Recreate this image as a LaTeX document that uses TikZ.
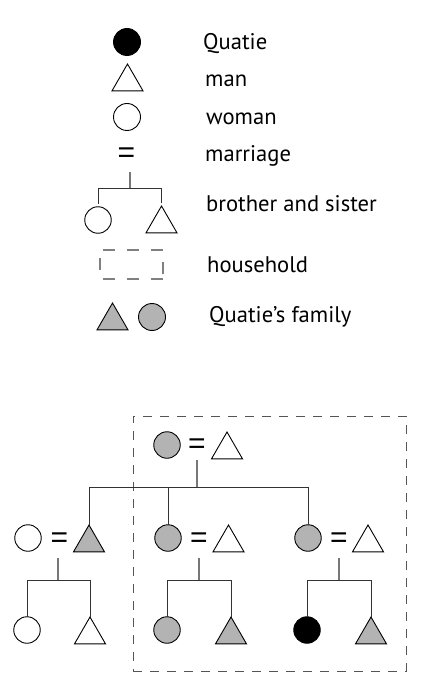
\documentclass[tikz,border=0pt]{standalone}
\usepackage{fontspec}
\setmainfont{PT Sans}
\newfontfamily\eqfont{Liberation Sans}
\usetikzlibrary{shapes.geometric,calc}
\definecolor{famgray}{HTML}{B3B3B3}
\definecolor{stubgray}{HTML}{777777}
\definecolor{linegray}{HTML}{333333}
\definecolor{boxgray}{HTML}{555555}
\definecolor{hhgray}{HTML}{808080}
\tikzset{
  fem/.style={circle, draw=black, line width=0.9pt, inner sep=0pt, outer sep=0pt, minimum size=26.5pt, fill=white},
  mal/.style={regular polygon, regular polygon sides=3, draw=black, line width=0.9pt, inner sep=0pt, outer sep=0pt, minimum size=35.8pt, fill=white},
  eqsign/.style={inner sep=0pt, anchor=base, font=\eqfont\fontsize{30}{30}\selectfont},
  lab/.style={inner sep=0pt, anchor=base west, font=\fontsize{22.6}{24}\selectfont},
  stub/.style={draw=stubgray, line width=1.3pt},
  kin/.style={draw=linegray, line width=0.9pt},
  hh/.style={draw=hhgray, line width=1.3pt, dash pattern=on 12pt off 12pt},
}
\begin{document}
\begin{tikzpicture}[x=1pt,y=-1pt]
\useasboundingbox (0,0) rectangle (420,700);
% ---------- legend ----------
\node[fem, fill=black, minimum size=27pt] (lq) at (127,42) {};
\node[lab] (tq) at (203,50) {Quatie};
\node[mal] (lm) at (127.5,81.9) {};
\node[lab] (tm) at (205,87) {man};
\node[fem, minimum size=27pt] (lw) at (127,117) {};
\node[lab] (tw) at (206,125) {woman};
\node[eqsign] (le) at (126.5,162.6) {=};
\node[lab] (tma) at (205,162) {marriage};
\node[fem] (ls) at (98,220) {};
\node[mal] (lb) at (161.5,223.9) {};
\coordinate (lsT) at (130,172);
\coordinate (lsJ) at (130,188);
\draw[stub] (lsT) -- (lsJ);
\draw[kin] ($(ls.north)+(0,-3)$) |- (lsJ -| lb.corner 1) -- ($(lb.corner 1)+(0,-3)$);
\node[lab] (tbs) at (206,212) {brother and sister};
\node[minimum width=63pt, minimum height=29pt, inner sep=0pt, outer sep=0pt] (lh) at (131.5,264.5) {};
\draw[hh, dash phase=21.3pt] (lh.north west) -- (lh.north east);
\draw[hh, dash phase=21.3pt] (lh.south west) -- (lh.south east);
\draw[hh, dash phase=16pt] (lh.north west) -- (lh.south west);
\draw[hh, dash phase=12pt] (lh.north east) -- (lh.south east);
\node[lab] (th) at (207,272) {household};
\node[mal, fill=famgray] (lft) at (112.5,320.9) {};
\node[fem, fill=famgray, minimum size=27pt] (lfc) at (152,317) {};
\node[lab] (tf) at (209,322) {Quatie’s family};
% ---------- household box ----------
\node[draw=boxgray, dash pattern=on 9pt off 8pt, line width=0.9pt, minimum width=273pt, minimum height=255pt, inner sep=0pt] (hbox) at (269.5,543.5) {};
% ---------- generation 1 ----------
\node[fem, fill=famgray] (f0) at (167,445) {};
\node[eqsign] (e0) at (197,453.6) {=};
\node[mal] (m0) at (227,449.9) {};
\coordinate (s0) at (197,460);
\coordinate (j0) at (197,487);
\draw[stub] (s0) -- (j0);
% ---------- generation 2 ----------
\node[fem] (w1) at (28,538) {};
\node[eqsign] (e1) at (59.5,547) {=};
\node[mal, fill=famgray] (m1) at (89,542.9) {};
\node[fem, fill=famgray] (f2) at (168,538) {};
\node[eqsign] (e2) at (199,547) {=};
\node[mal] (m2) at (228.5,542.9) {};
\node[fem, fill=famgray] (f3) at (308,538) {};
\node[eqsign] (e3) at (339,547) {=};
\node[mal] (m3) at (368,542.9) {};
\draw[kin] (m1.corner 1) -- (m1.corner 1 |- j0) -- (f3.north |- j0) -- (f3.north);
\draw[kin] (f2.north |- j0) -- (f2.north);
% ---------- generation 3 ----------
\node[fem] (c1a) at (27,630) {};
\node[mal] (c1b) at (90,634.9) {};
\node[fem, fill=famgray] (c2a) at (167,630) {};
\node[mal, fill=famgray] (c2b) at (231,634.9) {};
\node[fem, fill=black] (c3a) at (307,630) {};
\node[mal, fill=famgray] (c3b) at (371,634.9) {};
\coordinate (s1) at (58,558);  \coordinate (j1) at (58,580);
\coordinate (s2) at (199,558); \coordinate (j2) at (199,580);
\coordinate (s3) at (339,558); \coordinate (j3) at (339,580);
\draw[stub] (s1) -- (j1);
\draw[stub] (s2) -- (j2);
\draw[stub] (s3) -- (j3);
\draw[kin] (c1a.north) -- (c1a.north |- j1) -- (c1b.corner 1 |- j1) -- (c1b.corner 1);
\draw[kin] (c2a.north) -- (c2a.north |- j2) -- (c2b.corner 1 |- j2) -- (c2b.corner 1);
\draw[kin] (c3a.north) -- (c3a.north |- j3) -- (c3b.corner 1 |- j3) -- (c3b.corner 1);
\end{tikzpicture}
\end{document}
